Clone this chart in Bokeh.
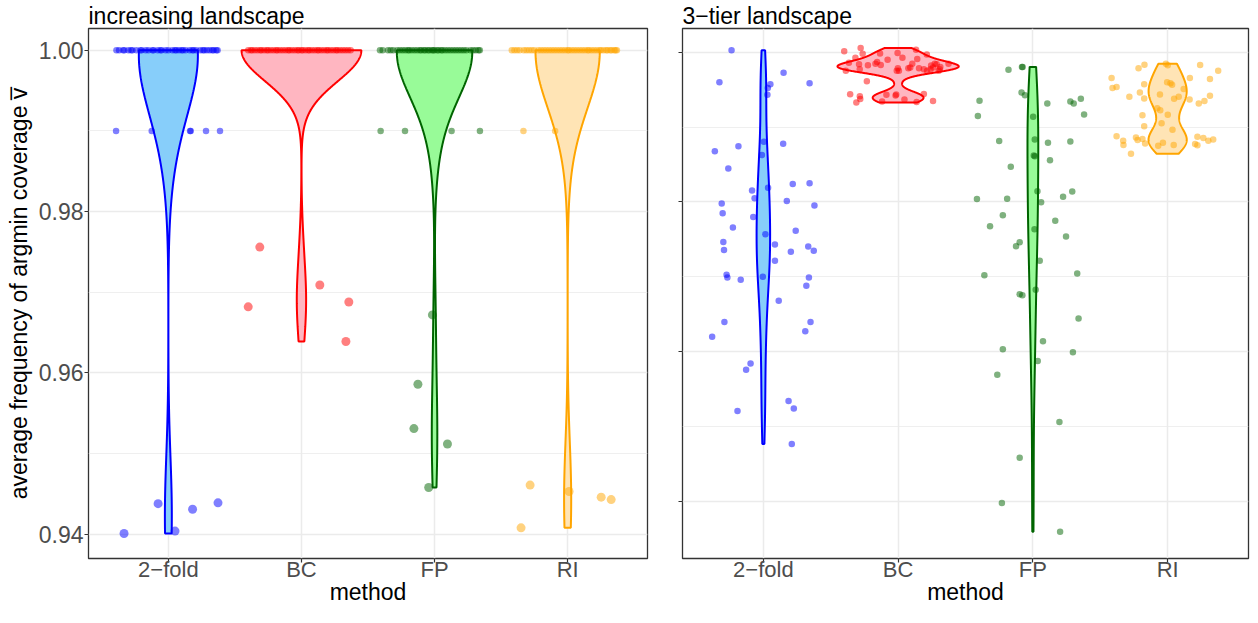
import numpy as np
from bokeh.plotting import figure
from bokeh.models import ColumnDataSource, FixedTicker, Range1d, PrintfTickFormatter
from bokeh.layouts import row
from bokeh.embed import file_html
from bokeh.resources import INLINE

# ---------------- data ----------------
methods = ["2\u2212fold", "BC", "FP", "RI"]
outline_colors = ["#0000FF", "#FF0000", "#006400", "#FFA500"]
fill_colors = ["#87CEFA", "#FFB6C1", "#98FB98", "#FFE4B5"]
titles = ["increasing landscape", "3\u2212tier landscape"]
y_title = "average frequency of argmin coverage v\u0305"
x_title = "method"
y_ticks = [0.94, 0.96, 0.98, 1.00]
y_minor = [0.95, 0.97, 0.99]

# increasing landscape: values and horizontal jitter (category units)
inc_2fold = [1.00] * 39 + [0.99] * 6 + [0.9401, 0.9438, 0.9404, 0.9431, 0.9439]
inc_2fold_jit = [-0.39, -0.37, -0.34, -0.33, -0.30, -0.28, -0.27, -0.24, -0.21, -0.20,
                 -0.17, -0.12, -0.11, -0.08, -0.06, -0.05, -0.02, 0.00, 0.03, 0.05,
                 0.06, 0.08, 0.10, 0.11, 0.13, 0.16, 0.18, 0.19, 0.21, 0.24,
                 0.26, 0.27, 0.29, 0.31, 0.33, 0.34, 0.36, 0.37, -0.15,
                 -0.393, -0.125, 0.163, 0.168, 0.283, 0.388,
                 -0.333, -0.077, 0.050, 0.182, 0.373]
inc_BC = [1.00] * 45 + [0.9756, 0.9709, 0.9688, 0.9682, 0.9639]
inc_BC_jit = [-0.40, -0.38, -0.37, -0.35, -0.33, -0.31, -0.30, -0.28, -0.26, -0.25,
              -0.23, -0.21, -0.19, -0.18, -0.16, -0.14, -0.12, -0.10, -0.09, -0.07,
              -0.05, -0.03, -0.02, 0.00, 0.01, 0.03, 0.05, 0.06, 0.08, 0.10,
              0.12, 0.13, 0.15, 0.17, 0.19, 0.20, 0.22, 0.24, 0.26, 0.27,
              0.29, 0.31, 0.33, 0.35, 0.37,
              -0.313, 0.138, 0.356, -0.400, 0.334]
inc_FP = [1.00] * 41 + [0.99] * 4 + [0.9672, 0.9586, 0.9531, 0.9512, 0.9458]
inc_FP_jit = [-0.41, -0.39, -0.35, -0.33, -0.31, -0.28, -0.26, -0.24, -0.22, -0.20,
              -0.19, -0.17, -0.15, -0.13, -0.11, -0.10, -0.08, -0.07, -0.05, -0.04,
              -0.02, -0.01, 0.00, 0.02, 0.03, 0.05, 0.06, 0.08, 0.10, 0.12,
              0.14, 0.16, 0.18, 0.20, 0.22, 0.24, 0.27, 0.29, 0.31, 0.33, 0.34,
              -0.405, -0.222, 0.128, 0.341,
              -0.016, -0.125, -0.155, 0.097, -0.044]
inc_RI = [1.00] * 43 + [0.99] * 2 + [0.9461, 0.9453, 0.9446, 0.9443, 0.9408]
inc_RI_jit = [-0.42, -0.40, -0.38, -0.36, -0.33, -0.31, -0.29, -0.27, -0.25, -0.22,
              -0.20, -0.18, -0.16, -0.14, -0.12, -0.10, -0.08, -0.06, -0.04, -0.02,
              0.00, 0.01, 0.03, 0.05, 0.07, 0.09, 0.11, 0.13, 0.15, 0.16,
              0.18, 0.20, 0.22, 0.24, 0.25, 0.27, 0.29, 0.30, 0.32, 0.33,
              0.35, 0.36, 0.37,
              -0.332, -0.094,
              -0.282, 0.011, 0.252, 0.327, -0.350]

# 3-tier landscape (y axis unlabeled in the source)
tier_2fold = [1.00026, 0.99599, 0.99726, 0.99573, 0.99521, 0.99430, 0.99586, 0.98804, 0.98742, 0.98677,
              0.98778, 0.98625, 0.98447, 0.98151, 0.98187, 0.98239, 0.98247, 0.98047, 0.98012, 0.97978,
              0.97952, 0.97847, 0.97799, 0.97656, 0.97613, 0.97568, 0.97464, 0.97356, 0.97430, 0.97333,
              0.97404, 0.97346, 0.97212, 0.97025, 0.96990, 0.96960, 0.96999, 0.96990, 0.96877, 0.96677,
              0.96394, 0.96394, 0.96198, 0.96269, 0.95838, 0.95755, 0.95337, 0.95238, 0.95203, 0.94763]
tier_2fold_jit = [-0.236, -0.326, 0.150, 0.052, 0.033, 0.030, 0.343, 0.004, -0.185, -0.360,
                  0.147, -0.011, -0.260, -0.084, 0.035, 0.218, 0.343, -0.065, 0.174, -0.309,
                  0.379, -0.302, -0.075, -0.226, 0.240, 0.015, -0.297, -0.292, 0.086, 0.204,
                  0.333, 0.374, 0.086, -0.273, -0.267, -0.168, -0.004, 0.338, 0.319, 0.114,
                  -0.289, 0.350, -0.380, 0.311, -0.095, -0.128, 0.187, 0.226, -0.192, 0.211]
tier_BC = [1.00013, 1.00056, 0.99978, 0.99926, 0.99982, 0.99991, 1.00034, 0.99969, 0.99909, 0.99847,
           0.99860, 0.99752, 0.99838, 0.99773, 0.99825, 0.99847, 0.99870, 0.99828, 0.99786, 0.99752,
           0.99752, 0.99786, 0.99795, 0.99786, 0.99752, 0.99821, 0.99795, 0.99847, 0.99838, 0.99752,
           0.99773, 0.99804, 0.99847, 0.99773, 0.99773, 0.99613, 0.99439, 0.99374, 0.99329, 0.99342,
           0.99430, 0.99421, 0.99369, 0.99335, 0.99443, 0.99348, 0.99434, 0.99413, 0.99900, 0.99926]
tier_BC_jit = [-0.400, -0.278, -0.263, -0.317, -0.134, -0.004, 0.133, 0.213, 0.142, 0.105,
               -0.365, -0.388, -0.290, -0.285, -0.224, -0.168, -0.156, -0.129, -0.002, -0.010,
               0.006, 0.076, 0.090, 0.155, 0.215, 0.245, 0.259, 0.272, 0.286, 0.301,
               0.309, 0.313, 0.374, 0.240, 0.191, -0.232, -0.356, -0.281, -0.310, -0.119,
               -0.087, -0.019, 0.047, 0.137, 0.191, 0.259, -0.014, -0.284, -0.078, 0.032]
tier_FP = [0.99765, 0.99804, 0.99802, 0.99460, 0.99426, 0.99352, 0.99147, 0.99316, 0.99342, 0.99316,
           0.99378, 0.99169, 0.99139, 0.98813, 0.98834, 0.98791, 0.98808, 0.98621, 0.98608, 0.98556,
           0.98468, 0.98142, 0.98138, 0.98038, 0.98043, 0.97995, 0.98069, 0.97821, 0.97673, 0.97747,
           0.97633, 0.97538, 0.97460, 0.97408, 0.97212, 0.97042, 0.97020, 0.96764, 0.96751, 0.96824,
           0.96442, 0.96138, 0.96029, 0.95990, 0.95872, 0.95689, 0.95059, 0.94581, 0.93976, 0.93589]
tier_FP_jit = [-0.181, -0.081, -0.076, -0.084, -0.059, -0.396, -0.408, 0.107, 0.278, 0.303,
               0.356, 0.380, 0.002, -0.250, 0.014, 0.112, 0.278, 0.007, 0.014, 0.127,
               -0.164, 0.034, 0.292, -0.415, -0.191, 0.061, 0.224, -0.223, -0.318, 0.166,
               0.012, 0.246, -0.098, -0.125, 0.051, 0.329, -0.360, -0.098, -0.078, 0.021,
               0.339, 0.075, -0.223, 0.297, 0.036, -0.264, 0.197, -0.098, -0.230, 0.202]
tier_RI = [0.99786, 0.99834, 0.99825, 0.99830, 0.99752, 0.99656, 0.99521, 0.99534, 0.99404, 0.99460,
           0.99573, 0.99382, 0.99599, 0.99586, 0.99564, 0.99434, 0.99378, 0.99404, 0.99656, 0.99643,
           0.99369, 0.99316, 0.99348, 0.99417, 0.99251, 0.99225, 0.99165, 0.99156, 0.99052, 0.99012,
           0.98964, 0.98878, 0.98817, 0.98761, 0.98860, 0.98826, 0.98839, 0.98781, 0.98751, 0.98791,
           0.98761, 0.98643, 0.98774, 0.98869, 0.98852, 0.98817, 0.98834, 0.98755, 0.99847, 0.99508]
tier_RI_jit = [-0.216, -0.172, 0.001, 0.241, 0.375, -0.416, -0.409, -0.379, -0.284, -0.206,
               -0.174, -0.174, -0.004, 0.021, 0.033, -0.057, 0.048, 0.082, 0.165, 0.314,
               0.163, 0.231, 0.273, 0.314, -0.077, -0.055, 0.001, -0.187, -0.045, -0.174,
               0.036, -0.379, -0.330, -0.328, -0.235, -0.223, -0.187, -0.167, -0.070, -0.035,
               0.045, -0.272, 0.204, 0.221, 0.265, 0.302, 0.338, 0.221, -0.013, 0.119]

inc_groups = [(inc_2fold, inc_2fold_jit), (inc_BC, inc_BC_jit), (inc_FP, inc_FP_jit), (inc_RI, inc_RI_jit)]
tier_groups = [(tier_2fold, tier_2fold_jit), (tier_BC, tier_BC_jit), (tier_FP, tier_FP_jit), (tier_RI, tier_RI_jit)]

FONT = "Liberation Sans"
GRID = "#EBEBEB"
DARK = "#333333"


def nrd0(x):
    hi = np.std(x, ddof=1)
    q75, q25 = np.percentile(x, [75, 25])
    lo = min(hi, (q75 - q25) / 1.34)
    if lo == 0:
        lo = hi if hi else (abs(x[0]) if x[0] else 1.0)
    return 0.9 * lo * len(x) ** -0.2


def kde(x, n=512):
    x = np.asarray(x, float)
    bw = nrd0(x)
    grid = np.linspace(x.min(), x.max(), n)
    d = np.exp(-0.5 * ((grid[:, None] - x[None, :]) / bw) ** 2).sum(1) / (len(x) * bw * np.sqrt(2 * np.pi))
    return grid, d


def setp(obj, name, val, fallback):
    try:
        setattr(obj, name, val)
    except Exception:
        setattr(obj, name, fallback)


def make_panel(groups, title, yr, width, bl, br, show_ylab):
    p = figure(width=width, height=607, x_range=Range1d(0.4, 4.6), y_range=Range1d(*yr),
               output_backend="svg", toolbar_location=None, title=title,
               min_border_left=bl, min_border_right=br, min_border_top=0, min_border_bottom=0)
    p.background_fill_color = "white"
    p.border_fill_color = "white"
    p.outline_line_color = DARK
    p.outline_line_width = 1.3

    p.title.text_font = FONT
    p.title.text_font_size = "23px"
    p.title.text_font_style = "normal"
    p.title.text_color = "black"
    p.title.align = "left"
    p.title.offset = 0
    setp(p.title, "standoff", 0, 0)

    xt = FixedTicker(ticks=[1, 2, 3, 4], minor_ticks=[])
    yt = FixedTicker(ticks=y_ticks, minor_ticks=y_minor)
    p.xaxis.ticker = xt
    p.yaxis.ticker = yt
    p.xgrid.ticker = xt
    p.ygrid.ticker = yt
    p.xgrid.grid_line_color = GRID
    p.xgrid.grid_line_width = 1.5
    p.ygrid.grid_line_color = GRID
    p.ygrid.grid_line_width = 1.5
    p.ygrid.minor_grid_line_color = GRID
    p.ygrid.minor_grid_line_width = 0.8

    p.xaxis.major_label_overrides = {i + 1: m for i, m in enumerate(methods)}
    for ax in (p.xaxis, p.yaxis):
        ax.axis_line_color = None
        ax.major_tick_line_color = DARK
        ax.major_tick_line_width = 1.2
        ax.major_tick_out = 4
        ax.major_tick_in = 0
        ax.minor_tick_line_color = None
        ax.major_label_text_font = FONT
        ax.major_label_text_color = "#4D4D4D"
    p.xaxis.major_label_text_font_size = "22px"
    setp(p.xaxis, "major_label_standoff", -6, 0)
    p.xaxis.axis_label = x_title
    p.xaxis.axis_label_text_font = FONT
    p.xaxis.axis_label_text_font_size = "23px"
    p.xaxis.axis_label_text_font_style = "normal"
    p.xaxis.axis_label_text_color = "black"
    setp(p.xaxis, "axis_label_standoff", -6, 0)

    if show_ylab:
        p.yaxis.formatter = PrintfTickFormatter(format="%.2f")
        p.yaxis.major_label_text_font_size = "23px"
        p.yaxis.major_label_standoff = 1
        p.yaxis.axis_label = y_title
        p.yaxis.axis_label_text_font = FONT
        p.yaxis.axis_label_text_font_size = "23px"
        p.yaxis.axis_label_text_font_style = "normal"
        p.yaxis.axis_label_text_color = "black"
        p.yaxis.axis_label_standoff = 4
    else:
        p.yaxis.major_label_overrides = {t: "" for t in y_ticks}
        p.yaxis.major_label_text_color = None
        p.yaxis.major_label_standoff = 0

    # violins (ggplot-like: trimmed gaussian KDE, scale = "area")
    dens = [kde(v) for v, _ in groups]
    dmax = max(d.max() for _, d in dens)
    xs, ys = [], []
    for i, (g, d) in enumerate(dens):
        hw = 0.45 * d / dmax
        c = i + 1
        xs.append(np.concatenate([c - hw, (c + hw)[::-1]]))
        ys.append(np.concatenate([g, g[::-1]]))
    p.patches(xs=xs, ys=ys, fill_color=fill_colors, line_color=outline_colors, line_width=2)

    # jittered points
    for i, (v, j) in enumerate(groups):
        n = min(len(v), len(j))
        vv = np.asarray(v[:n], float)
        xx = (i + 1) + np.asarray(j[:n], float)
        if show_ylab:
            sz = [6.5 if val >= 0.99 else 9 for val in vv]
        else:
            sz = [6.5] * n
        src = ColumnDataSource(dict(x=xx, y=vv, s=sz))
        p.scatter("x", "y", source=src, size="s", fill_color=outline_colors[i], fill_alpha=0.5,
                  line_color=None)
    return p


p1 = make_panel(inc_groups, titles[0], (0.9370, 1.0027), 660, 88, 13, True)
p2 = make_panel(tier_groups, titles[1], (0.93233, 1.00317), 590, 22, 2, False)

layout = row(p1, p2)
open("out.html", "w").write(file_html(layout, INLINE))
